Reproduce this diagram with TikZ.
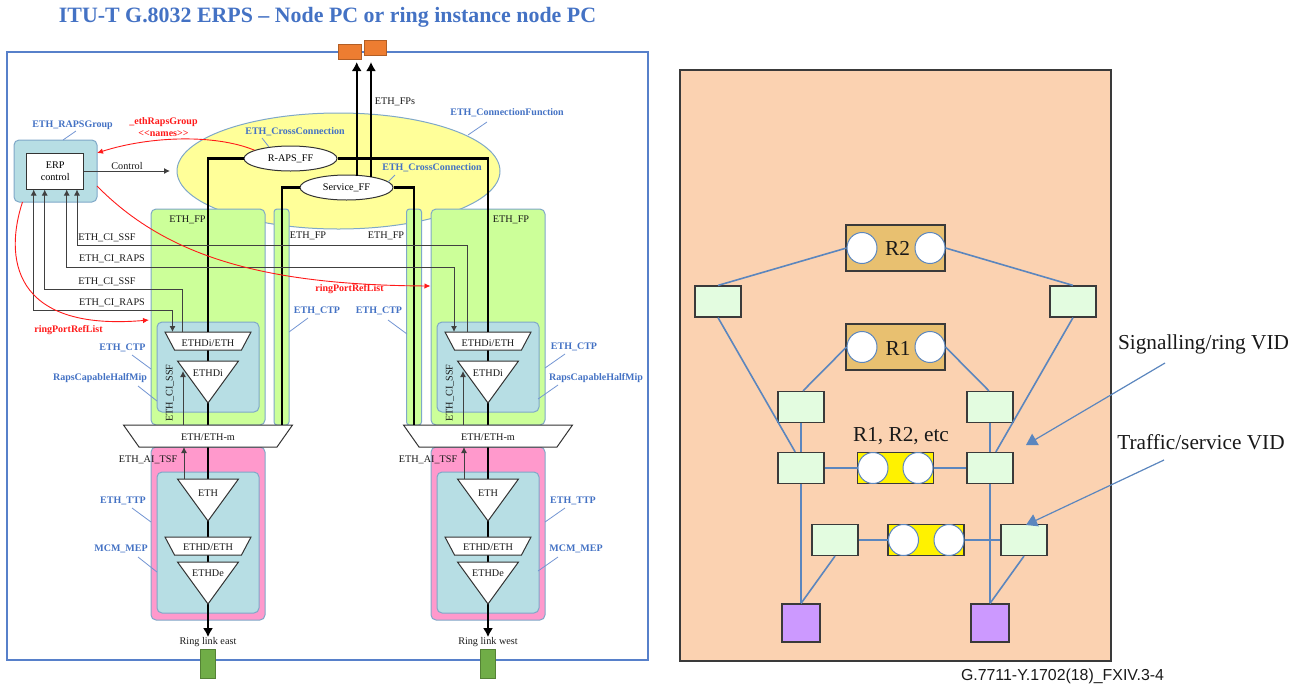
\documentclass[tikz,border=0pt]{standalone}
\usepackage{fontspec}
\setmainfont{Liberation Serif}
\newfontfamily\labelsans{Liberation Sans}
\usetikzlibrary{arrows.meta,shapes.geometric}
\definecolor{titleblue}{HTML}{4472C4}
\definecolor{edgeblue}{HTML}{7FA8C8}
\definecolor{linkblue}{HTML}{5B86BE}
\definecolor{fpgreen}{HTML}{CCFF99}
\definecolor{mippink}{HTML}{FF99CC}
\definecolor{mipblue}{HTML}{B7DEE4}
\definecolor{ccyellow}{HTML}{FFFF99}
\definecolor{peach}{HTML}{FBD2B1}
\definecolor{ringtan}{HTML}{E8C070}
\definecolor{vidgreen}{HTML}{E3FCE0}
\definecolor{portpurple}{HTML}{CC99FF}
\definecolor{portorange}{HTML}{ED7D31}
\definecolor{portgreen}{HTML}{70AD47}
\definecolor{refred}{HTML}{FF1A1A}
\definecolor{boxedge}{HTML}{3A3A3A}
\tikzset{
  x=1pt,y=-1pt,
  plainlabel/.style={inner sep=0pt,font=\fontsize{10.2}{11}\selectfont,text=black!90},
  bluelabel/.style={inner sep=0pt,font=\fontsize{10}{11}\selectfont\bfseries,text=titleblue},
  redlabel/.style={inner sep=0pt,font=\fontsize{10}{11}\selectfont\bfseries,text=refred},
  leaderline/.style={draw=titleblue!75,line width=0.8pt},
  region/.style={draw=edgeblue,line width=1pt,rounded corners=5pt,inner sep=0pt},
  funcshape/.style={draw=black!80,fill=white,line width=1pt},
  thickline/.style={draw=black,line width=2.2pt},
  thickarrow/.style={thickline,-{Latex[length=9pt,width=10pt]}},
  thinline/.style={draw=black!75,line width=0.9pt},
  thinarrow/.style={thinline,-{Latex[length=6pt,width=6pt]}},
  redcurve/.style={draw=refred,line width=0.9pt,-{Latex[length=6pt,width=5.5pt]}},
  ffellipse/.style={ellipse,draw=black!80,fill=white,line width=1pt,inner sep=0pt,minimum width=93pt,minimum height=25pt,font=\fontsize{10.2}{11}\selectfont},
  port/.style={draw=#1!75!black,fill=#1,line width=0.6pt,inner sep=0pt},
  vidbox/.style={draw=boxedge,fill=vidgreen,line width=1.2pt,inner sep=0pt,minimum width=46pt,minimum height=31pt},
  purplebox/.style={draw=boxedge,fill=portpurple,line width=1.2pt,inner sep=0pt,minimum width=38pt,minimum height=38pt},
  ringbox/.style={draw=boxedge,fill=ringtan,line width=1.2pt,inner sep=0pt,minimum width=99pt,minimum height=46pt},
  ybox/.style={draw=boxedge,fill=yellow,line width=1.2pt,inner sep=0pt,minimum width=76pt,minimum height=31pt},
  hole/.style={ellipse,draw=linkblue,fill=white,line width=1pt,inner sep=0pt,minimum width=30pt,minimum height=31pt},
  vidlink/.style={draw=linkblue,line width=1.6pt},
  calloutarrow/.style={draw=linkblue,line width=1.2pt,-{Triangle[length=11pt,width=13pt]}},
  biglabel/.style={inner sep=0pt,font=\fontsize{21.3}{23}\selectfont,text=black!90},
}
\newcommand{\leaderpair}[3]{\coordinate (#1a) at (#2);\coordinate (#1b) at (#3);\draw[leaderline] (#1a) -- (#1b);}
\begin{document}
\begin{tikzpicture}
\useasboundingbox (0,0) rectangle (1301,689);
\node[inner sep=0pt,font=\fontsize{21.9}{24}\selectfont\bfseries,text=titleblue] (title) at (327.5,17) {ITU-T G.8032 ERPS -- Node PC or ring instance node PC};
% outer frame
\draw[draw=titleblue!90,line width=2pt] (6.5,52) rectangle (648,660);
\node[port=portorange,minimum width=23pt,minimum height=15pt] (fpa) at (349.5,51.5) {};
\node[port=portorange,minimum width=22pt,minimum height=15pt] (fpb) at (375,48) {};
\node[port=portgreen,minimum width=15pt,minimum height=29pt] (linke) at (207.5,663.5) {};
\node[port=portgreen,minimum width=15pt,minimum height=29pt] (linkw) at (487.5,663.5) {};
% connection function
\node[ellipse,draw=edgeblue,fill=ccyellow,line width=1pt,minimum width=323pt,minimum height=116pt,inner sep=0pt] (conn) at (338.5,171) {};
% regions
\node[region,fill=fpgreen,minimum width=15pt,minimum height=216pt,rounded corners=3pt] (ctpe) at (281.5,317) {};
\node[region,fill=fpgreen,minimum width=15pt,minimum height=216pt,rounded corners=3pt] (ctpw) at (414,317) {};
\foreach \p/\cx/\ringname in {e/208/Ring link east,w/488/Ring link west}{
  \node[region,fill=fpgreen,minimum width=114pt,minimum height=216pt] (fp\p) at (\cx,317) {};
  \node[region,fill=mippink,minimum width=114pt,minimum height=173pt] (ttp\p) at (\cx,533.5) {};
  \node[region,fill=mipblue,minimum width=102pt,minimum height=90pt] (mip\p) at (\cx,367) {};
  \node[region,fill=mipblue,minimum width=102pt,minimum height=141pt] (mep\p) at (\cx,542.5) {};
  \coordinate (dia\p) at (\cx,332);
  \coordinate (dib\p) at (\cx,350);
  \coordinate (dit\p) at (\cx,361);
  \coordinate (dix\p) at (\cx,403);
  \coordinate (ma\p) at (\cx,425);
  \coordinate (mb\p) at (\cx,447);
  \coordinate (ett\p) at (\cx,479);
  \coordinate (etx\p) at (\cx,521);
  \coordinate (eda\p) at (\cx,537);
  \coordinate (edb\p) at (\cx,555);
  \coordinate (det\p) at (\cx,562);
  \coordinate (dex\p) at (\cx,604);
  \node[plainlabel] (ring\p) at (\cx,642) {\ringname};
  % thick path through the functions
  \draw[thickline] (dib\p) -- (dit\p);
  \draw[thickline] (dix\p) -- (ma\p);
  \draw[thickline] (mb\p) -- (ett\p);
  \draw[thickline] (etx\p) -- (eda\p);
  \draw[thickline] (edb\p) -- (det\p);
  \draw[thickarrow] (dex\p) -- (ring\p.north);
  % function shapes
  \draw[funcshape] (\cx-43,332) -- (\cx+43,332) -- (\cx+33.5,350) -- (\cx-33.5,350) -- cycle;
  \draw[funcshape] (\cx-30.5,361) -- (\cx+30.5,361) -- (dix\p) -- cycle;
  \draw[funcshape] (\cx-84.5,425) -- (\cx+84.5,425) -- (\cx+69,447) -- (\cx-69,447) -- cycle;
  \draw[funcshape] (\cx-30.5,479) -- (\cx+30.5,479) -- (etx\p) -- cycle;
  \draw[funcshape] (\cx-43,537) -- (\cx+43,537) -- (\cx+33.5,555) -- (\cx-33.5,555) -- cycle;
  \draw[funcshape] (\cx-30.5,562) -- (\cx+30.5,562) -- (dex\p) -- cycle;
  \node[plainlabel] (tdi\p) at (\cx,343) {ETHDi/ETH};
  \node[plainlabel] (tdt\p) at (\cx,373) {ETHDi};
  \node[plainlabel] (tm\p) at (\cx,437) {ETH/ETH-m};
  \node[plainlabel] (tet\p) at (\cx,493) {ETH};
  \node[plainlabel] (ted\p) at (\cx,547) {ETHD/ETH};
  \node[plainlabel] (tde\p) at (\cx,573) {ETHDe};
  % thin status arrows
  \coordinate (ssfa\p) at (\cx-25,425);
  \coordinate (ssfb\p) at (\cx-25,371);
  \draw[thinarrow] (ssfa\p) -- (ssfb\p);
  \coordinate (tsfa\p) at (\cx-24,479);
  \coordinate (tsfb\p) at (\cx-24,447);
  \draw[thinarrow] (tsfa\p) -- (tsfb\p);
  \node[plainlabel,rotate=90] (cissf\p) at (\cx-38,393) {ETH\_CI\_SSF};
  \node[plainlabel] (aitsf\p) at (\cx-60,460) {ETH\_AI\_TSF};
}
% ERP control
\node[region,fill=mipblue,minimum width=83pt,minimum height=62pt] (grp) at (55.5,171) {};
\node[draw=black!80,fill=white,line width=1pt,minimum width=57.5pt,minimum height=36pt,inner sep=0pt,align=center,font=\fontsize{10.2}{12}\selectfont] (erp) at (55.2,171) {ERP\\control};
\coordinate (ctlend) at (170,171);
\draw[thinarrow] (erp.east) -- (ctlend);
\node[plainlabel] (ctl) at (127,166) {Control};
% flow-forwarding ellipses
\node[ffellipse] (rf) at (290.5,158.5) {R-APS\_FF};
\node[ffellipse] (sf) at (346.5,187.5) {Service\_FF};
\draw[thickline] (rf.west) -| (diae);
\draw[thickline] (rf.east) -| (diaw);
\draw[thickline] (sf.west) -| (282,425);
\draw[thickline] (sf.east) -| (414,425);
\coordinate (fp1s) at (356.7,176);
\coordinate (fp2s) at (371,177);
\coordinate (fp1e) at (356.7,62);
\coordinate (fp2e) at (371,62);
\draw[thickarrow] (fp1s) -- (fp1e);
\draw[thickarrow] (fp2s) -- (fp2e);
\node[plainlabel] (fps) at (395,102) {ETH\_FPs};
% client signal lines
\coordinate (cia) at (33.7,189.5);
\coordinate (cib) at (44.7,189.5);
\coordinate (cic) at (66.7,189.5);
\coordinate (cid) at (77,189.5);
\coordinate (pa) at (172.5,332);
\coordinate (pb) at (182.7,332);
\coordinate (pc) at (454,332);
\coordinate (pd) at (467,332);
\draw[thinline,{Latex[length=6pt,width=6pt]}-] (cid) |- (467,245.5) -- (pd);
\draw[thinline,{Latex[length=6pt,width=6pt]}-{Latex[length=6pt,width=6pt]}] (cic) |- (454,267) -- (pc);
\draw[thinline,{Latex[length=6pt,width=6pt]}-] (cib) |- (182.7,289) -- (pb);
\draw[thinline,{Latex[length=6pt,width=6pt]}-{Latex[length=6pt,width=6pt]}] (cia) |- (172.5,310.7) -- (pa);
\node[plainlabel] (l1) at (107,238) {ETH\_CI\_SSF};
\node[plainlabel] (l2) at (112,259) {ETH\_CI\_RAPS};
\node[plainlabel] (l3) at (107,282) {ETH\_CI\_SSF};
\node[plainlabel] (l4) at (112,303) {ETH\_CI\_RAPS};
\node[plainlabel] (f1) at (187.5,220) {ETH\_FP};
\node[plainlabel] (f2) at (308,236) {ETH\_FP};
\node[plainlabel] (f3) at (386,236) {ETH\_FP};
\node[plainlabel] (f4) at (511,220) {ETH\_FP};
% red references
\coordinate (grpa) at (97,153);
\coordinate (grpb) at (97,186);
\coordinate (grpc) at (22.5,202);
\coordinate (rtipw) at (430.5,286);
\coordinate (rtipe) at (149,320);
\draw[redcurve] (rf.167) .. controls (215,134) and (150,136) .. (grpa);
\draw[redcurve] (grpb) .. controls (165,255) and (260,285) .. (rtipw);
\draw[redcurve] (grpc) .. controls (5,255) and (10,332) .. (rtipe);
\node[redlabel,align=center] (namesa) at (163.5,122.5) {\_ethRapsGroup};
\node[redlabel] (namesb) at (163.5,134) {<{}<names>{}>};
\node[redlabel] (refw) at (349.5,289) {ringPortRefList};
\node[redlabel] (refe) at (68.5,330.5) {ringPortRefList};
% blue labels and leaders
\node[bluelabel] (b1) at (72.5,125.5) {ETH\_RAPSGroup};
\leaderpair{q1}{76,131}{63,140}
\node[bluelabel] (b2) at (295,132) {ETH\_CrossConnection};
\leaderpair{q2}{262,138}{269,147}
\node[bluelabel] (b3) at (507,113) {ETH\_ConnectionFunction};
\leaderpair{q3}{487,122}{468,135}
\node[bluelabel] (b4) at (432,168) {ETH\_CrossConnection};
\leaderpair{q4}{395,175}{388,182}
\node[bluelabel] (b5) at (317,310.5) {ETH\_CTP};
\leaderpair{q5}{308,318}{289,332}
\node[bluelabel] (b6) at (379,310.5) {ETH\_CTP};
\leaderpair{q6}{388,320}{407,334}
\node[bluelabel] (b7) at (122.5,348) {ETH\_CTP};
\leaderpair{q7}{132,355}{151,369}
\node[bluelabel] (b8) at (100,378) {RapsCapableHalfMip};
\leaderpair{q8}{138,386}{157,401}
\node[bluelabel] (b9) at (123,501) {ETH\_TTP};
\leaderpair{q9}{132,508}{151,522}
\node[bluelabel] (b10) at (121,549) {MCM\_MEP};
\leaderpair{q10}{138,557}{157,572}
\node[bluelabel] (b11) at (574,347) {ETH\_CTP};
\leaderpair{q11}{565,354}{545,368}
\node[bluelabel] (b12) at (596,378) {RapsCapableHalfMip};
\leaderpair{q12}{558,385}{538,399}
\node[bluelabel] (b13) at (573,501) {ETH\_TTP};
\leaderpair{q13}{565,508}{545,522}
\node[bluelabel] (b14) at (576,549) {MCM\_MEP};
\leaderpair{q14}{558,557}{538,571}
% right panel
\draw[draw=boxedge,fill=peach,line width=1.4pt] (680,70) rectangle (1111,661);
\node[ringbox] (r2) at (895.5,248) {};
\node[ringbox] (r1) at (895.5,347) {};
\node[vidbox] (a) at (718,301.5) {};
\node[vidbox] (b) at (1073,301.5) {};
\node[vidbox] (c) at (801,407) {};
\node[vidbox] (d) at (990,407) {};
\node[vidbox] (e) at (801,468) {};
\node[vidbox] (f) at (990,468) {};
\node[vidbox] (g) at (835,540) {};
\node[vidbox] (h) at (1024,540) {};
\node[ybox] (y1) at (895.5,468) {};
\node[ybox] (y2) at (926,540) {};
\node[purplebox] (p1) at (801,623) {};
\node[purplebox] (p2) at (990,623) {};
\node[hole] (r2l) at (862,248) {};
\node[hole] (r2r) at (930,248) {};
\node[hole] (r1l) at (862,347) {};
\node[hole] (r1r) at (930,347) {};
\node[hole] (y1l) at (873,468) {};
\node[hole] (y1r) at (918,468) {};
\node[hole] (y2l) at (903.5,540) {};
\node[hole] (y2r) at (949,540) {};
\node[biglabel] (tr2) at (897.5,248.5) {R2};
\node[biglabel] (tr1) at (898,348) {R1};
\node[biglabel] (trr) at (901,436) {R1, R2, etc};
\draw[vidlink] (r2l.west) -- (a.north);
\draw[vidlink] (r2r.east) -- (b.north);
\draw[vidlink] (a.south) -- (e.110);
\draw[vidlink] (b.south) -- (f.70);
\draw[vidlink] (r1l.west) -- ([xshift=2pt]c.north);
\draw[vidlink] (r1r.east) -- ([xshift=-1pt]d.north);
\draw[vidlink] (c.south) -- (e.north);
\draw[vidlink] (d.south) -- (f.north);
\draw[vidlink] (e.east) -- (y1l.west);
\draw[vidlink] (y1r.east) -- (f.west);
\draw[vidlink] (e.south) -- (p1.north);
\draw[vidlink] (f.south) -- (p2.north);
\draw[vidlink] (g.east) -- (y2l.west);
\draw[vidlink] (y2r.east) -- (h.west);
\draw[vidlink] (g.south) -- (p1.north);
\draw[vidlink] (h.south) -- (p2.north);
\node[biglabel] (sig) at (1203.5,344) {Signalling/ring VID};
\node[biglabel] (trf) at (1201,442) {Traffic/service VID};
\coordinate (sa) at (1165,363);
\coordinate (sb) at (1026,445);
\coordinate (ta) at (1164,460);
\coordinate (tb) at (1026,525);
\draw[calloutarrow] (sa) -- (sb);
\draw[calloutarrow] (ta) -- (tb);
\node[inner sep=0pt,font=\labelsans\fontsize{15.9}{17}\selectfont,text=black!90] (cap) at (1062.5,676) {G.7711-Y.1702(18)\_FXIV.3-4};
\end{tikzpicture}
\end{document}
